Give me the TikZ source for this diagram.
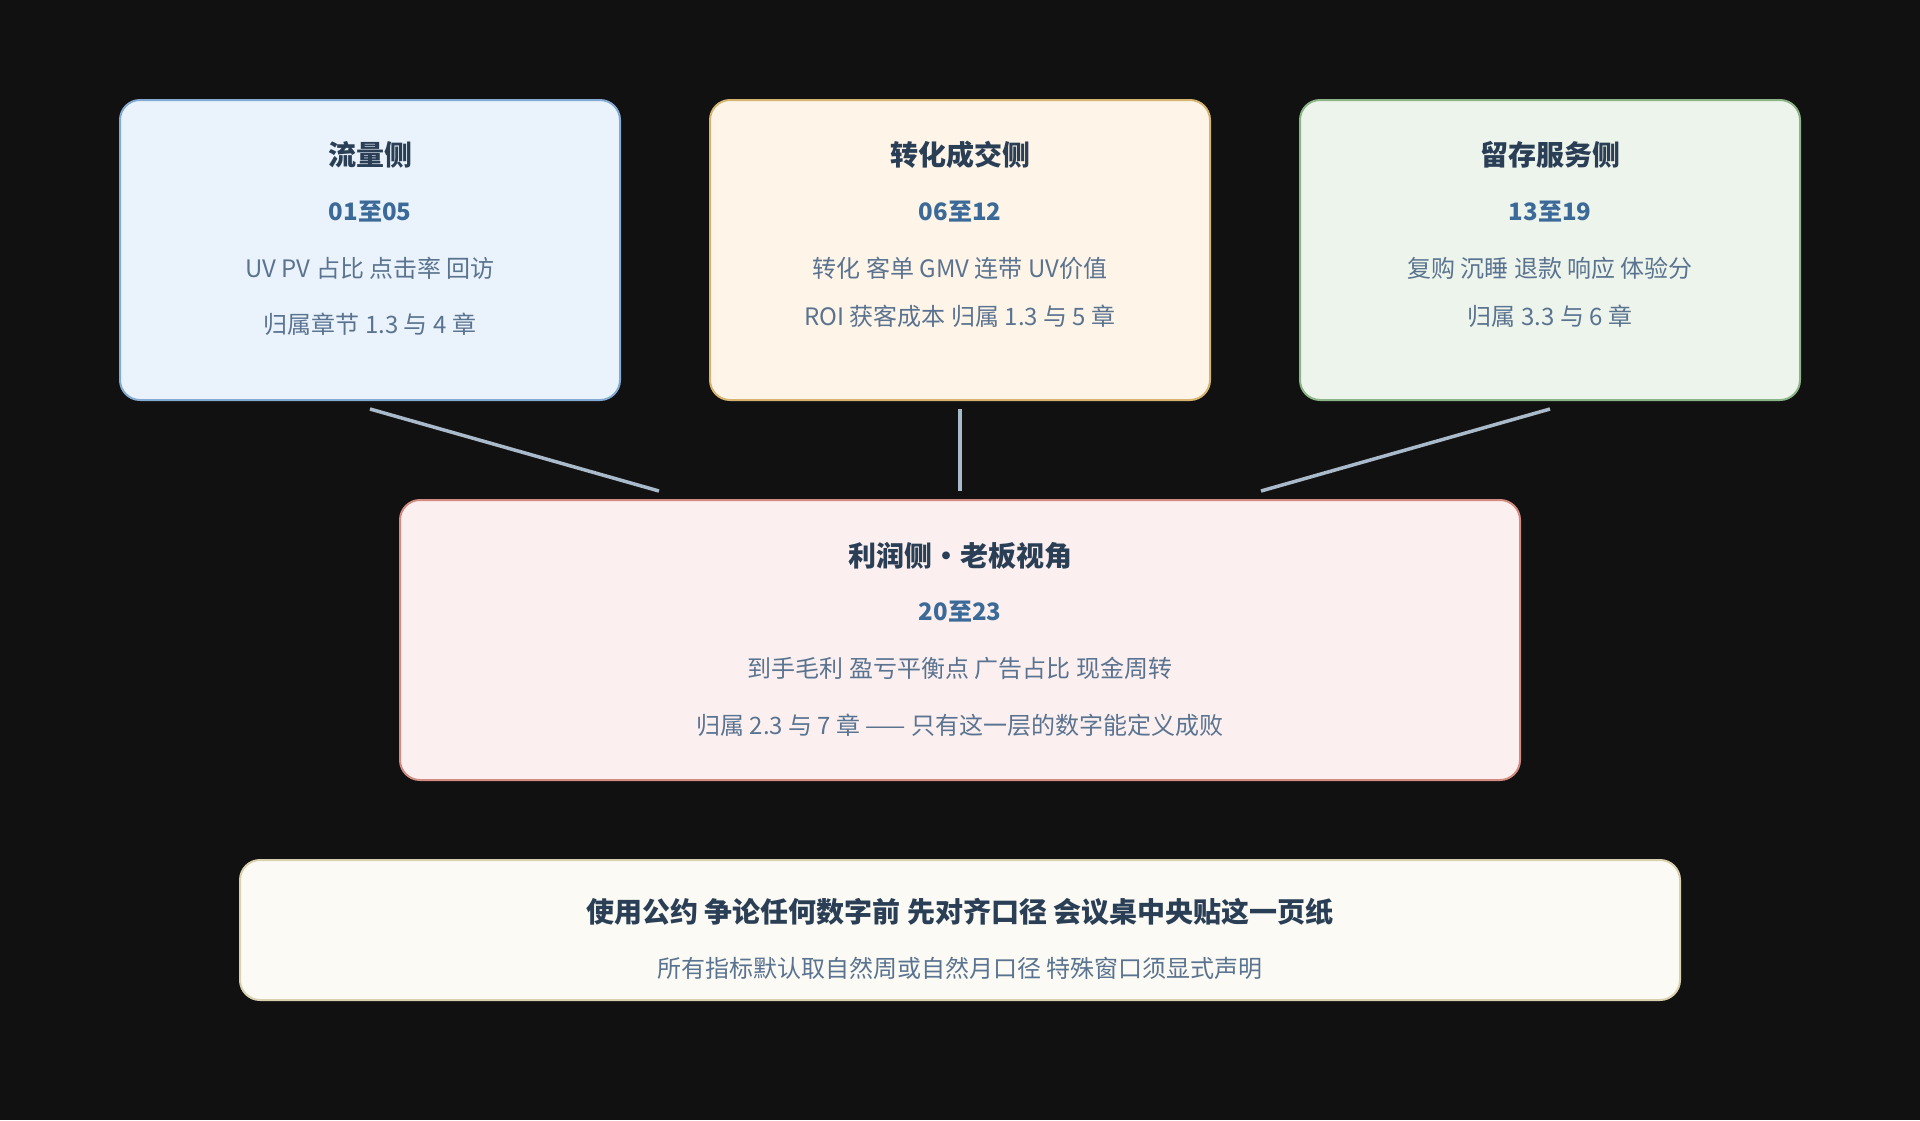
\documentclass[tikz,border=0pt]{standalone}
\usepackage{fontspec}
\setmainfont{Noto Sans CJK SC}
\usepackage{tikz}
\usetikzlibrary{calc}
\definecolor{bg}{HTML}{111111}
\definecolor{ink}{HTML}{2A3F56}
\definecolor{numink}{HTML}{3C6A98}
\definecolor{bodyink}{HTML}{5A7390}
\definecolor{link}{HTML}{A9BACB}
\definecolor{flowfill}{HTML}{EAF3FB}
\definecolor{flowline}{HTML}{82AAD3}
\definecolor{dealfill}{HTML}{FEF4E7}
\definecolor{dealline}{HTML}{D6B36F}
\definecolor{keepfill}{HTML}{EDF4EB}
\definecolor{keepline}{HTML}{8BB487}
\definecolor{profitfill}{HTML}{FBF0EF}
\definecolor{profitline}{HTML}{D38A80}
\definecolor{rulefill}{HTML}{FBFAF4}
\definecolor{ruleline}{HTML}{D9D0AE}
\tikzset{
  card/.style={rounded corners=20pt, line width=2pt, inner sep=0pt},
  head/.style={text=ink, font=\fontsize{28}{34}\selectfont\bfseries},
  num/.style={text=numink, font=\fontsize{24}{30}\selectfont\bfseries},
  body/.style={text=bodyink, font=\fontsize{24}{30}\selectfont},
  wire/.style={link, line width=3.5pt}
}

\begin{document}
\begin{tikzpicture}[x=1pt, y=-1pt]
            \fill[bg] (0, 0) rectangle (1920, 1120);
            % top row
            \node[card, fill=flowfill, draw=flowline, minimum width=500pt, minimum height=300pt] (flow) at (370, 250) {};
            \node[card, fill=dealfill, draw=dealline, minimum width=500pt, minimum height=300pt] (deal) at (960, 250) {};
            \node[card, fill=keepfill, draw=keepline, minimum width=500pt, minimum height=300pt] (keep) at (1550, 250) {};
            \node[head] (flow-title) at (370, 155) {流量侧};
            \node[num] (flow-num) at (370, 212) {01至05};
            \node[body] (flow-a) at (370, 268) {UV PV 占比 点击率 回访};
            \node[body] (flow-b) at (370, 324) {归属章节 1.3 与 4 章};
            \node[head] (deal-title) at (960, 155) {转化成交侧};
            \node[num] (deal-num) at (960, 212) {06至12};
            \node[body] (deal-a) at (960, 268) {转化 客单 GMV 连带 UV价值};
            \node[body] (deal-b) at (960, 316) {ROI 获客成本 归属 1.3 与 5 章};
            \node[head] (keep-title) at (1550, 155) {留存服务侧};
            \node[num] (keep-num) at (1550, 212) {13至19};
            \node[body] (keep-a) at (1550, 268) {复购 沉睡 退款 响应 体验分};
            \node[body] (keep-b) at (1550, 316) {归属 3.3 与 6 章};
            % profit layer
            \node[card, fill=profitfill, draw=profitline, minimum width=1120pt, minimum height=280pt] (profit) at (960, 640) {};
            \node[head] (profit-title) at (960, 556) {利润侧·老板视角};
            \node[num] (profit-num) at (960, 612) {20至23};
            \node[body] (profit-a) at (960, 668) {到手毛利 盈亏平衡点 广告占比 现金周转};
            \node[body] (profit-b) at (960, 725) {归属 2.3 与 7 章 —— 只有这一层的数字能定义成败};
            \draw[wire] ($(flow.south)+(0, 8)$) -- ($(profit.north west)+(260, -8)$);
            \draw[wire] ($(deal.south)+(0, 8)$) -- ($(profit.north)+(0, -8)$);
            \draw[wire] ($(keep.south)+(0, 8)$) -- ($(profit.north east)+(-260, -8)$);
            % usage rule
            \node[card, fill=rulefill, draw=ruleline, minimum width=1440pt, minimum height=140pt] (rule) at (960, 930) {};
            \node[head] (rule-title) at (960, 912) {使用公约 争论任何数字前 先对齐口径 会议桌中央贴这一页纸};
            \node[body] (rule-a) at (960, 968) {所有指标默认取自然周或自然月口径 特殊窗口须显式声明};
        \end{tikzpicture}
\end{document}
